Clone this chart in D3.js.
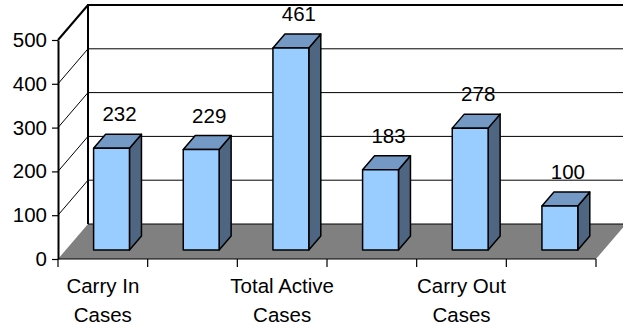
<!DOCTYPE html>
<html>
<head>
<meta charset="utf-8">
<script src="https://cdn.jsdelivr.net/npm/d3@7"></script>
<style>
  html, body { margin: 0; padding: 0; background: #fff; }
  svg { display: block; }
  text { font-family: "Liberation Sans", Arial, sans-serif; fill: #000; }
</style>
</head>
<body>
<svg id="chart" width="623" height="332"></svg>
<script>
// Case counts per category (labels shown only for every other slot)
const categories = ["Carry In Cases", "", "Total Active Cases", "", "Carry Out Cases", ""];
const values = [232, 229, 461, 183, 278, 100];
const yTicks = [0, 100, 200, 300, 400, 500];

const svg = d3.select("#chart");
const W = 623, H = 332;
const FONT = 20.5;

// Oblique 3D frame: front floor edge, plus a depth offset toward the back wall
const front = { left: 58, right: 596, base: 259, top: 40 };
const DEPTH = { dx: 30, dy: -35 };

const x = d3.scaleBand().domain(d3.range(categories.length)).range([front.left, front.right]);
const h = d3.scaleLinear().domain([0, 500]).range([0, front.base - front.top]);
const yFront = d3.scaleLinear().domain([0, 500]).range([front.base, front.top]);

// project (horizontal position, value, depth fraction) to screen
const P = (px, v, z) => [px + z * DEPTH.dx, front.base - h(v) + z * DEPTH.dy];

const colors = { face: "#99CCFF", top: "#7399C4", side: "#4E6682", floor: "#808080" };

// Back wall gridlines
svg.append("g").selectAll("line").data(yTicks.filter(t => t > 0 && t < 500)).join("line")
  .attr("x1", P(front.left, 0, 1)[0]).attr("x2", W)
  .attr("y1", d => P(0, d, 1)[1]).attr("y2", d => P(0, d, 1)[1])
  .attr("stroke", "#000").attr("stroke-width", 1);

// Left wall gridlines (diagonals from front axis to back wall)
svg.append("g").selectAll("line").data(yTicks.filter(t => t > 0 && t < 500)).join("line")
  .attr("x1", d => P(front.left, d, 0)[0]).attr("y1", d => P(front.left, d, 0)[1])
  .attr("x2", d => P(front.left, d, 1)[0]).attr("y2", d => P(front.left, d, 1)[1])
  .attr("stroke", "#000").attr("stroke-width", 1);

// Floor
const floorPts = [P(front.left, 0, 0), P(front.left, 0, 1), P(front.right, 0, 1), P(front.right, 0, 0)];
svg.append("polygon").attr("points", floorPts.map(p => p.join(",")).join(" "))
  .attr("fill", colors.floor);

// Floor back edge
svg.append("line")
  .attr("x1", P(front.left, 0, 1)[0]).attr("y1", P(0, 0, 1)[1])
  .attr("x2", W).attr("y2", P(0, 0, 1)[1])
  .attr("stroke", "#000").attr("stroke-width", 1);

// Wall frame: back wall left edge, top edge, left wall top edge
const frame = svg.append("g").attr("stroke", "#000").attr("stroke-width", 2).attr("fill", "none");
frame.append("line")
  .attr("x1", P(front.left, 0, 1)[0]).attr("y1", P(0, 0, 1)[1])
  .attr("x2", P(front.left, 500, 1)[0]).attr("y2", P(0, 500, 1)[1]);
frame.append("line")
  .attr("x1", P(front.left, 500, 1)[0] - 1).attr("y1", P(0, 500, 1)[1])
  .attr("x2", W).attr("y2", P(0, 500, 1)[1]);
frame.append("line")
  .attr("x1", P(front.left, 500, 0)[0]).attr("y1", P(0, 500, 0)[1])
  .attr("x2", P(front.left, 500, 1)[0]).attr("y2", P(0, 500, 1)[1]);

// Bars
const z1 = 0.26, z2 = 0.66;
const bw = x.bandwidth() * 0.4;
const barLeft = i => x(i) + x.bandwidth() * 0.31;
const poly = pts => pts.map(p => p.join(",")).join(" ");

const bars = svg.append("g").selectAll("g").data(values).join("g")
  .attr("stroke", "#000").attr("stroke-width", 1.5).attr("stroke-linejoin", "round");

bars.append("polygon").attr("fill", colors.side)
  .attr("points", (v, i) => {
    const xr = barLeft(i) + bw;
    return poly([P(xr, 0, z1), P(xr, v, z1), P(xr, v, z2), P(xr, 0, z2)]);
  });
bars.append("polygon").attr("fill", colors.top)
  .attr("points", (v, i) => {
    const xl = barLeft(i), xr = xl + bw;
    return poly([P(xl, v, z1), P(xr, v, z1), P(xr, v, z2), P(xl, v, z2)]);
  });
bars.append("polygon").attr("fill", colors.face)
  .attr("points", (v, i) => {
    const xl = barLeft(i), xr = xl + bw;
    return poly([P(xl, 0, z1), P(xr, 0, z1), P(xr, v, z1), P(xl, v, z1)]);
  });

// Value labels
svg.append("g").selectAll("text").data(values).join("text")
  .attr("x", (v, i) => P(barLeft(i) + bw / 2, v, z1)[0] + 8)
  .attr("y", (v, i) => P(0, v, z1)[1] - 27)
  .attr("text-anchor", "middle")
  .attr("font-size", FONT)
  .text(v => v);

// Y axis
const yAxis = svg.append("g").attr("transform", `translate(${front.left},0)`)
  .call(d3.axisLeft(yFront).tickValues(yTicks).tickSize(6).tickSizeOuter(0).tickPadding(5));
yAxis.select(".domain").attr("stroke", "#000").attr("stroke-width", 2);
yAxis.selectAll(".tick line").attr("stroke", "#000").attr("stroke-width", 1.2);
yAxis.selectAll(".tick text").attr("font-size", FONT)
  .attr("font-family", "Liberation Sans, Arial, sans-serif").attr("fill", "#000");

// X axis line and ticks at category boundaries
const xg = svg.append("g");
xg.append("line").attr("x1", front.left).attr("x2", front.right)
  .attr("y1", front.base).attr("y2", front.base).attr("stroke", "#000").attr("stroke-width", 1.2);
const bounds = d3.range(categories.length).map(i => x(i)).concat([front.right]);
xg.selectAll("line.tk").data(bounds).join("line").attr("class", "tk")
  .attr("x1", d => d).attr("x2", d => d)
  .attr("y1", front.base).attr("y2", front.base + 8)
  .attr("stroke", "#000").attr("stroke-width", 1.2);

// Category labels, wrapped at the last space
const catText = xg.selectAll("text").data(categories).join("text")
  .attr("x", (d, i) => x(i) + x.bandwidth() / 2)
  .attr("y", 293)
  .attr("text-anchor", "middle")
  .attr("font-size", FONT);
catText.each(function(d) {
  if (!d) return;
  const k = d.lastIndexOf(" ");
  const lines = [d.slice(0, k), d.slice(k + 1)];
  const t = d3.select(this);
  lines.forEach((ln, j) => {
    t.append("tspan").attr("x", t.attr("x")).attr("dy", j === 0 ? 0 : 29).text(ln);
  });
});
</script>
</body>
</html>
